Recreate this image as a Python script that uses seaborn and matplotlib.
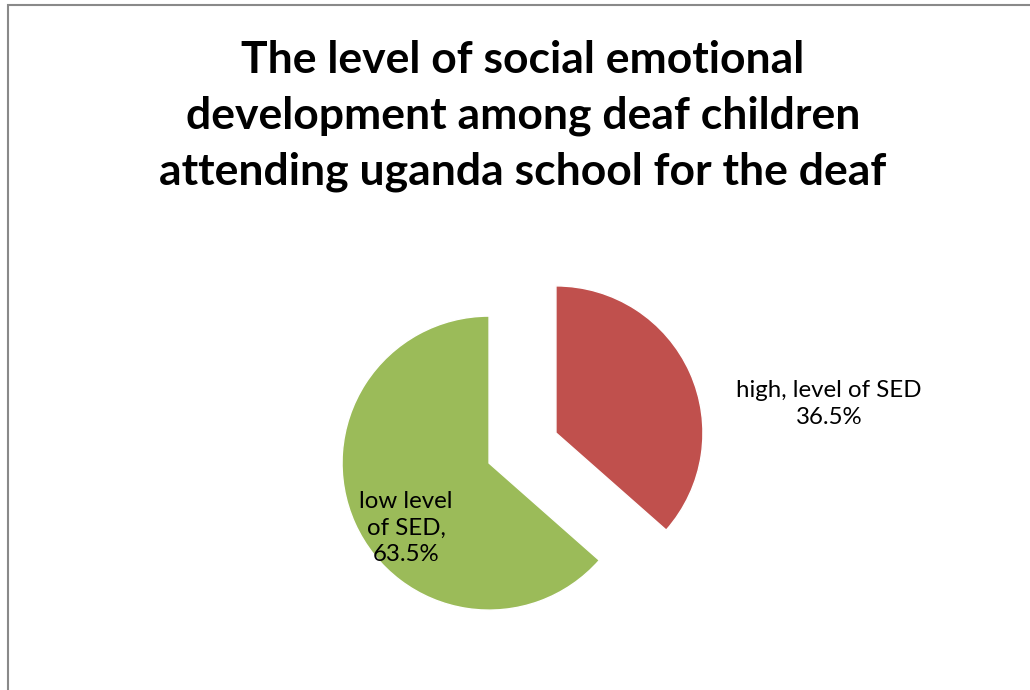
import matplotlib
matplotlib.use("Agg")
import matplotlib.pyplot as plt
import seaborn as sns
from matplotlib.patches import Rectangle

categories = ["high, level of SED", "low level\nof SED,"]
values = [36.5, 63.5]
colors = ["#C0504D", "#9BBB59"]
title = "The level of social emotional\ndevelopment among deaf children\nattending uganda school for the deaf"

sns.set_theme(style="white")
plt.rcParams['font.family'] = ['Lato', 'DejaVu Sans']

fig = plt.figure(figsize=(10.3, 6.9), dpi=100)
ax = fig.add_axes([0, 0, 1, 1])

wedges, _ = ax.pie(values, colors=colors, startangle=90, counterclock=False,
                   radius=147, center=(522.5, 242), explode=[36.7, 36.7],
                   frame=True)
ax.set_xlim(0, 1030)
ax.set_ylim(0, 690)
ax.set_aspect('equal')
ax.axis('off')

ax.text(829, 286, f"{categories[0]}\n{values[0]}%", ha='center', va='center',
        fontsize=17.3, linespacing=1.38, color='black')
ax.text(406, 162, f"{categories[1]}\n{values[1]}%", ha='center', va='center',
        fontsize=17.3, linespacing=1.3, color='black')

fig.text(523 / 1030, 1 - 116 / 690, title, ha='center', va='center',
         fontsize=32, fontweight='bold', linespacing=1.47, color='black')

fig.patches.append(Rectangle((7.5 / 1030, -0.1), 1.2, (690 - 5.5) / 690 + 0.1,
                             transform=fig.transFigure, fill=False,
                             edgecolor='#898989', linewidth=1.5))

fig.savefig("out.png", dpi=100, facecolor='white')
